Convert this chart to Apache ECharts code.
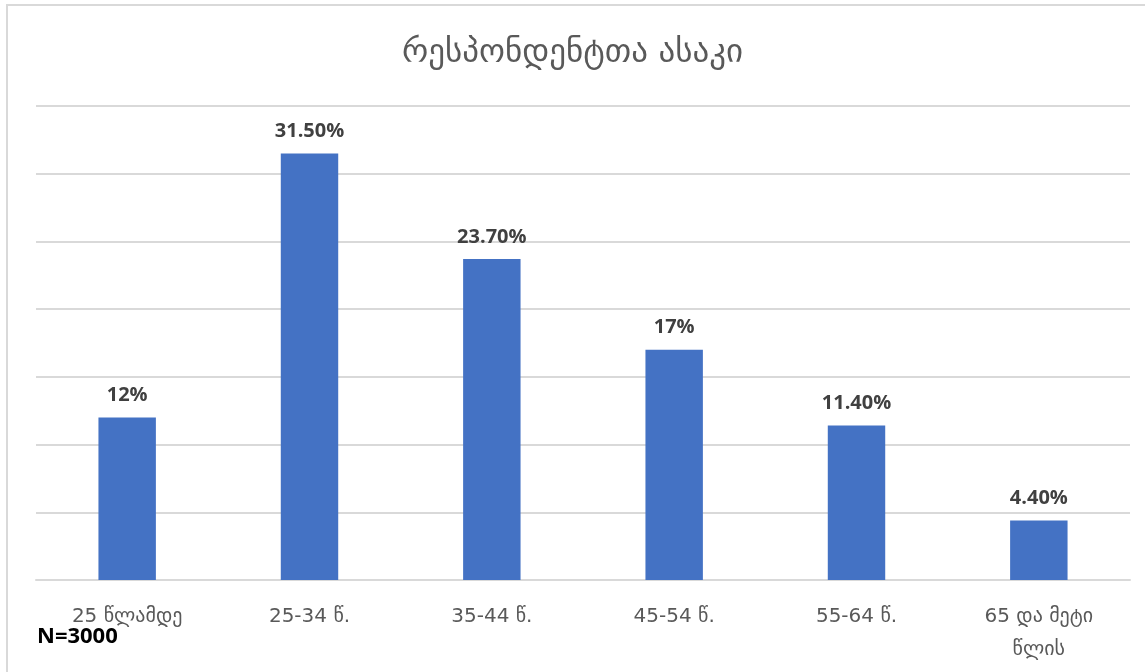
<!DOCTYPE html>
<html><head><meta charset="utf-8">
<script src="https://cdn.jsdelivr.net/npm/echarts@6/dist/echarts.min.js"></script>
<style>html,body{margin:0;padding:0;background:#fff}#c{width:1145px;height:672px;position:relative}</style>
</head><body><div id="c"></div>
<script>
const title = 'რესპონდენტთა ასაკი';
const categories = ['25 წლამდე', '25-34 წ.', '35-44 წ.', '45-54 წ.', '55-64 წ.', '65 და მეტი\nწლის'];
const values = [12, 31.5, 23.7, 17, 11.4, 4.4];
const valueLabels = ['12%', '31.50%', '23.70%', '17%', '11.40%', '4.40%'];
const note = 'N=3000';

const chart = echarts.init(document.getElementById('c'), null, {renderer: 'canvas'});
chart.setOption({
  backgroundColor: '#fff',
  animation: false,
  title: {text: title, left: 'center', top: 32,
    textStyle: {fontFamily: 'DejaVu Sans', fontSize: 33, fontWeight: 'normal', color: '#595959'}},
  graphic: [
    {type: 'rect', shape: {x: 7, y: 5, width: 1150, height: 700}, style: {fill: 'none', stroke: '#d9d9d9', lineWidth: 2}, silent: true},
    {type: 'text', left: 37, top: 626, style: {text: note, font: 'bold 22px "Open Sans", Arial', fill: '#000'}}
  ],
  grid: {left: 36, right: 15, top: 106, bottom: 92, containLabel: false},
  xAxis: {type: 'category', data: categories,
    axisLine: {show: true, lineStyle: {color: '#d9d9d9', width: 2}}, axisTick: {show: false},
    axisLabel: {margin: 20, fontFamily: 'DejaVu Sans', fontSize: 20, color: '#595959', lineHeight: 33, interval: 0}},
  yAxis: {type: 'value', min: 0, max: 35, interval: 5, axisLabel: {show: false},
    axisLine: {show: false}, axisTick: {show: false},
    splitLine: {lineStyle: {color: '#d9d9d9', width: 2}}},
  series: [{type: 'bar', data: values, barWidth: '31.5%',
    itemStyle: {color: '#4472C4'},
    label: {show: true, position: 'top', distance: 12,
      formatter: p => valueLabels[p.dataIndex],
      fontFamily: '"Open Sans", "DejaVu Sans"', fontWeight: 'bold', fontSize: 20, color: '#404040'}}]
});
</script></body></html>
